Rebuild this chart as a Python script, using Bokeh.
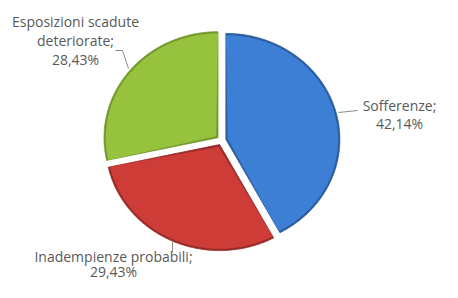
import numpy as np
from bokeh.plotting import figure
from bokeh.models import Range1d
from bokeh.embed import file_html
from bokeh.resources import INLINE
from bokeh.core.properties import value

# ---- data ----
categories = ["Sofferenze", "Inadempienze probabili", "Esposizioni scadute deteriorate"]
shares = [42.14, 29.43, 28.43]
fill_colors = ["#3c7fd5", "#cd3c37", "#97c23d"]
edge_colors = ["#2a5c9e", "#982a27", "#73992c"]
name_lines = [["Sofferenze;"], ["Inadempienze probabili;"], ["Esposizioni scadute", "deteriorate;"]]

# ---- layout (pixel-like data coordinates) ----
cx, cy = 221.0, 140.0
rx, ry = 114.0, 106.0
explode = 4.5
# label anchors: (center x, first line center y, line step)
label_pos = [(399, 105, 18), (113, 256, 15), (75, 21, 19)]
# leader lines
leaders = [
    ([338, 357], [112, 110]),
    ([172, 172], [240, 252]),
    ([115, 122, 128], [50, 50, 68]),
]

p = figure(width=442, height=282, x_range=Range1d(0, 442), y_range=Range1d(282, 0),
           output_backend="svg", toolbar_location=None, min_border=0,
           outline_line_color=None, background_fill_color="white")
p.axis.visible = False
p.xgrid.visible = False
p.ygrid.visible = False


def wedge(start, end, ox, oy, inset):
    mid = (start + end) / 2
    half = (end - start) / 2
    t = inset / np.sin(min(half, np.pi / 2))
    ax = ox + t * np.sin(mid)
    ay = oy - t * np.cos(mid)
    th = np.linspace(start, end, 160)
    xs = np.concatenate([[ax], ox + (rx - inset) * np.sin(th)])
    ys = np.concatenate([[ay], oy - (ry - inset) * np.cos(th)])
    return xs, ys


total = float(sum(shares))
start = 0.0
for i, v in enumerate(shares):
    span = 2 * np.pi * v / total
    end = start + span
    mid = (start + end) / 2
    ox = cx + explode * np.sin(mid)
    oy = cy - explode * np.cos(mid)
    xs, ys = wedge(start, end, ox, oy, 0)
    p.patch(xs, ys, fill_color=edge_colors[i], line_color=edge_colors[i], line_width=0.8)
    xs, ys = wedge(start, end, ox, oy, 1.8)
    p.patch(xs, ys, fill_color=fill_colors[i], line_color=None)
    start = end

for lx, ly in leaders:
    p.line(lx, ly, line_color="#8c8c8c", line_width=1)

for i, v in enumerate(shares):
    lines = name_lines[i] + [f"{v:.2f}".replace(".", ",") + "%"]
    x0, y0, step = label_pos[i]
    xs = [x0] * len(lines)
    ys = [y0 + k * step for k in range(len(lines))]
    p.text(xs, ys, text=lines, text_align="center", text_baseline="middle",
           text_font=value("Open Sans"), text_font_size="14px", text_color="#595959")

open("out.html", "w").write(file_html(p, INLINE))
